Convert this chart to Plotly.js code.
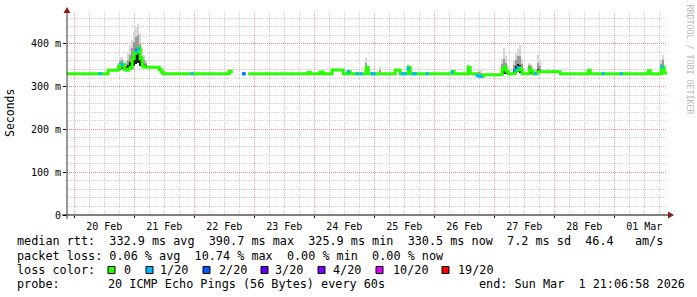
<!DOCTYPE html>
<html><head><meta charset="utf-8">
<script src="https://cdn.plot.ly/plotly-3.0.1.min.js"></script>
<style>html,body{margin:0;padding:0;background:#fff;overflow:hidden}</style>
</head><body><div id="chart" style="width:697px;height:297px"></div>
<script>
// ---- data (median RTT in ms, step points) ----
const medianTimes = [
"2026-02-19 21:06:58","2026-02-20 13:36","2026-02-20 17:36","2026-02-20 18:24","2026-02-20 19:12",
"2026-02-20 20:00","2026-02-20 20:48","2026-02-20 21:36","2026-02-20 22:24","2026-02-20 23:12",
"2026-02-21 00:00","2026-02-21 00:48","2026-02-21 01:36","2026-02-21 02:24","2026-02-21 03:12",
"2026-02-21 04:00","2026-02-21 10:00","2026-02-21 10:48","2026-02-21 11:36","2026-02-22 14:00",
"2026-02-22 14:48","2026-02-22 20:24","2026-02-22 21:36","2026-02-23 21:36","2026-02-23 22:24",
"2026-02-24 02:24","2026-02-24 03:36","2026-02-24 07:12","2026-02-24 11:36","2026-02-24 13:36",
"2026-02-24 14:24","2026-02-24 20:48","2026-02-24 21:36","2026-02-25 08:24","2026-02-25 10:24",
"2026-02-25 13:36","2026-02-25 14:24","2026-02-26 07:12","2026-02-26 08:00","2026-02-26 13:36",
"2026-02-26 14:24","2026-02-26 17:12","2026-02-26 18:24","2026-02-26 19:36","2026-02-27 03:12",
"2026-02-27 04:00","2026-02-27 04:48","2026-02-27 05:36","2026-02-27 08:24","2026-02-27 09:36",
"2026-02-27 10:24","2026-02-27 11:12","2026-02-27 14:00","2026-02-27 14:48","2026-02-27 15:36",
"2026-02-27 17:12","2026-02-28 02:24","2026-02-28 13:36","2026-02-28 14:24","2026-03-01 13:36",
"2026-03-01 14:24","2026-03-01 18:48","2026-03-01 19:12","2026-03-01 20:00","2026-03-01 21:06:58"];
const medianMs = [
330,338,344,350,352,
340,338,341,345,365,
378,382,390,365,348,
345,340,334,330,336,
330,null,330,333,330,
334,330,339,330,335,
330,345,330,339,330,
345,330,336,330,345,
330,326,324,328,340,
346,336,330,338,344,
340,330,342,336,330,
335,330,338,330,337,
330,340,346,332,330.5];

// ---- packet loss samples (level index into lossColors) ----
const lossTimes = [
"2026-02-20 10:24","2026-02-20 19:12","2026-02-21 00:48","2026-02-21 01:36","2026-02-21 23:12",
"2026-02-22 19:36","2026-02-22 20:00","2026-02-24 13:36","2026-02-24 17:12","2026-02-24 18:48",
"2026-02-24 23:12","2026-02-25 00:00","2026-02-25 11:12","2026-02-25 12:24","2026-02-25 13:36",
"2026-02-25 15:36","2026-02-25 16:24","2026-02-25 21:12","2026-02-26 07:12","2026-02-26 17:12",
"2026-02-26 18:00","2026-02-26 18:48","2026-02-27 08:24","2026-02-27 09:36","2026-02-27 16:24",
"2026-02-28 19:36","2026-03-01 02:48","2026-03-01 19:12"];
const lossMs = [
330,352,382,388,330,
330,330,335,330,330,
330,330,330,330,342,
330,330,330,334,326,
324,324,338,344,330,
330,330,346];
const lossLevel = [
1,1,1,1,1,
1,2,1,1,1,
1,1,1,1,1,
1,1,1,1,1,
1,1,1,1,1,
1,1,1];

// ---- smoke (ping spread) ----
const smokeTimes = [
"2026-02-20 17:36","2026-02-20 18:24","2026-02-20 19:12","2026-02-20 20:00","2026-02-20 20:48",
"2026-02-20 21:36","2026-02-20 22:24","2026-02-20 23:12","2026-02-21 00:00","2026-02-21 00:48",
"2026-02-21 01:36","2026-02-21 02:24","2026-02-21 03:12","2026-02-21 04:00","2026-02-21 04:48",
"2026-02-22 14:00","2026-02-24 13:36","2026-02-24 20:48","2026-02-25 02:24","2026-02-25 13:36",
"2026-02-26 07:12","2026-02-26 13:36","2026-02-26 18:00","2026-02-26 18:48","2026-02-27 03:12",
"2026-02-27 04:00","2026-02-27 04:48","2026-02-27 08:00","2026-02-27 08:48","2026-02-27 09:36",
"2026-02-27 10:24","2026-02-27 11:12","2026-02-27 14:00","2026-02-27 14:48","2026-02-27 17:36",
"2026-02-27 18:24","2026-02-27 23:36","2026-02-28 13:36","2026-03-01 13:36","2026-03-01 18:48",
"2026-03-01 19:36"];
const smokeLow  = [338,338,340,338,338, 338,340,342,348,352, 355,348,345,345,345, 330,330,330,330,330, 330,330,322,322,330, 330,330,330,332,335, 332,330,330,330,335, 335,335,330,330,330, 332];
const smokeDark = [345,352,355,345,345, 350,358,370,380,388, 392,375,358,352,350, 336,336,345,332,345, 336,345,328,326,342, 348,342,340,348,352, 350,340,345,342,340, 338,337,338,337,340, 348];
const smokeMid  = [350,360,362,350,352, 362,375,390,405,415, 420,400,372,362,356, 338,338,355,338,348, 338,348,335,332,352, 365,355,350,362,372, 372,352,350,348,355, 348,339,340,339,352, 362];
const smokeHigh = [356,368,370,356,360, 378,395,410,428,440, 446,425,390,375,362, 340,342,368,345,352, 340,352,342,338,365, 390,372,360,378,388, 398,365,356,352,374, 362,342,342,340,362, 375];

// ---- axis / legend labels ----
const yTickVals = [0,100,200,300,400];
const yTickText = ["0","100 m","200 m","300 m","400 m"];
const lossColors = ["#26ff00","#00b8ff","#0059ff","#5e00ff","#7e00ff","#dd00ff","#ff0000"];
const lossLabels = ["0","1/20","2/20","3/20","4/20","10/20","19/20"];
const statsRtt = "median rtt:  332.9 ms avg  390.7 ms max  325.9 ms min  330.5 ms now  7.2 ms sd  46.4   am/s";
const statsLoss = "packet loss: 0.06 % avg  10.74 % max  0.00 % min  0.00 % now";
const lossTitle = "loss color:";
const probeTitle = "probe:";
const probeText = "20 ICMP Echo Pings (56 Bytes) every 60s";
const endText = "end: Sun Mar  1 21:06:58 2026";
const yTitle = "Seconds";
const sideText = "RRDTOOL / TOBI OETIKER";

// ---- layout geometry (pixels) ----
const W = 697, H = 297, L = 67, R = 30, T = 13, B = 82;
const PW = W - L - R, PH = H - T - B;
const px = x => (x - L) / PW;
const py = y => (H - B - y) / PH;
const nb = s => s.replace(/ /g, "\u00a0");
const MONO = "DejaVu Sans Mono";
const LF = 11.8;

const traces = [];
const barW = 40 * 60 * 1000;
[[smokeHigh, "#d6d6d6"], [smokeMid, "#9a9a9a"], [smokeDark, "#1e1e1e"]].forEach(([top, col]) => {
  traces.push({
    type: "bar", x: smokeTimes, base: smokeLow,
    y: top.map((v, i) => v - smokeLow[i]),
    width: barW, marker: {color: col, line: {width: 0}}, hoverinfo: "skip"
  });
});
traces.push({
  type: "scatter", mode: "lines", x: medianTimes, y: medianMs,
  line: {color: lossColors[0], width: 3, shape: "hv"}, connectgaps: false, hoverinfo: "skip"
});
traces.push({
  type: "scatter", mode: "markers", x: lossTimes, y: lossMs,
  marker: {symbol: "square", size: 3, color: lossLevel.map(l => lossColors[l]), line: {width: 0}},
  hoverinfo: "skip"
});

const ann = [];
const txt = (x, y, text, opts = {}) => ann.push(Object.assign({
  xref: "paper", yref: "paper", x: px(x), y: py(y), text: nb(text), showarrow: false,
  xanchor: "left", yanchor: "middle", borderpad: 0,
  font: {family: MONO, size: LF, color: "#000"}
}, opts));
txt(16, 241, statsRtt);
txt(16, 256, statsLoss);
txt(16, 270, lossTitle);
txt(16, 284, probeTitle);
txt(107, 284, probeText);
txt(478, 284, endText);
const boxX = [108, 146, 203, 261, 318, 376, 442];
const labX = [123, 159, 218, 274, 332, 392, 457];
const shapes = [];
lossLabels.forEach((lab, i) => {
  txt(labX[i], 270, lab);
  shapes.push({type: "rect", xref: "paper", yref: "paper",
    x0: px(boxX[i]), x1: px(boxX[i] + 7), y0: py(273.5), y1: py(266.5),
    fillcolor: lossColors[i], line: {color: "#000", width: 1}});
});
ann.push({xref: "paper", yref: "paper", x: px(10), y: py(113), text: yTitle, showarrow: false,
  textangle: -90, xanchor: "center", yanchor: "middle", font: {family: MONO, size: 11.5, color: "#000"}});
ann.push({xref: "paper", yref: "paper", x: px(689.5), y: py(59), text: nb(sideText), showarrow: false,
  textangle: 90, xanchor: "center", yanchor: "middle", font: {family: MONO, size: 8.3, color: "#b8b8b8"}});

// axis lines and arrows
shapes.push({type: "line", xref: "paper", yref: "paper", x0: px(62), x1: px(669), y0: 0, y1: 0, line: {color: "#000", width: 1}});
shapes.push({type: "line", xref: "paper", yref: "paper", x0: 0, x1: 0, y0: py(219), y1: py(11), line: {color: "#333", width: 1}});
shapes.push({type: "path", xref: "paper", yref: "paper",
  path: `M ${px(668)} ${py(211.5)} L ${px(674)} ${py(215)} L ${px(668)} ${py(218.5)} Z`,
  fillcolor: "#8b1a1a", line: {width: 0}});
shapes.push({type: "path", xref: "paper", yref: "paper",
  path: `M ${px(63.5)} ${py(13)} L ${px(67)} ${py(7)} L ${px(70.5)} ${py(13)} Z`,
  fillcolor: "#8b1a1a", line: {width: 0}});

const dotted = "1px,1px";
const layout = {
  width: W, height: H, margin: {l: L, r: R, t: T, b: B, pad: 0},
  paper_bgcolor: "#ffffff", plot_bgcolor: "#ffffff",
  showlegend: false, hovermode: false, barmode: "overlay", bargap: 0,
  font: {family: MONO, size: 10, color: "#000"},
  xaxis: {
    type: "date", range: ["2026-02-19 21:06:58", "2026-03-01 21:06:58"],
    tick0: "2026-02-20", dtick: 86400000, tickformat: "%d %b", ticklabelmode: "period",
    ticks: "outside", ticklen: 2, tickcolor: "#000", tickwidth: 1,
    showgrid: true, gridcolor: "rgba(225,90,90,0.55)", griddash: dotted, gridwidth: 1,
    minor: {dtick: 21600000, tick0: "2026-02-20", showgrid: true, gridcolor: "rgba(150,150,150,0.45)", griddash: dotted, gridwidth: 1, ticks: ""},
    showline: false, zeroline: false, fixedrange: true,
    tickfont: {family: MONO, size: 10, color: "#000"}
  },
  yaxis: {
    range: [0, 472], tickmode: "array", tickvals: yTickVals, ticktext: yTickText,
    ticks: "outside", ticklen: 3, tickcolor: "#000", tickwidth: 1,
    showgrid: true, gridcolor: "rgba(225,90,90,0.55)", griddash: dotted, gridwidth: 1,
    minor: {tickmode: "linear", tick0: 0, dtick: 20, showgrid: true, gridcolor: "rgba(150,150,150,0.45)", griddash: dotted, gridwidth: 1, ticks: ""},
    showline: false, zeroline: false, fixedrange: true,
    tickfont: {family: MONO, size: 10, color: "#000"}
  },
  annotations: ann, shapes: shapes
};
Plotly.newPlot("chart", traces, layout, {staticPlot: true, displayModeBar: false});
</script></body></html>
